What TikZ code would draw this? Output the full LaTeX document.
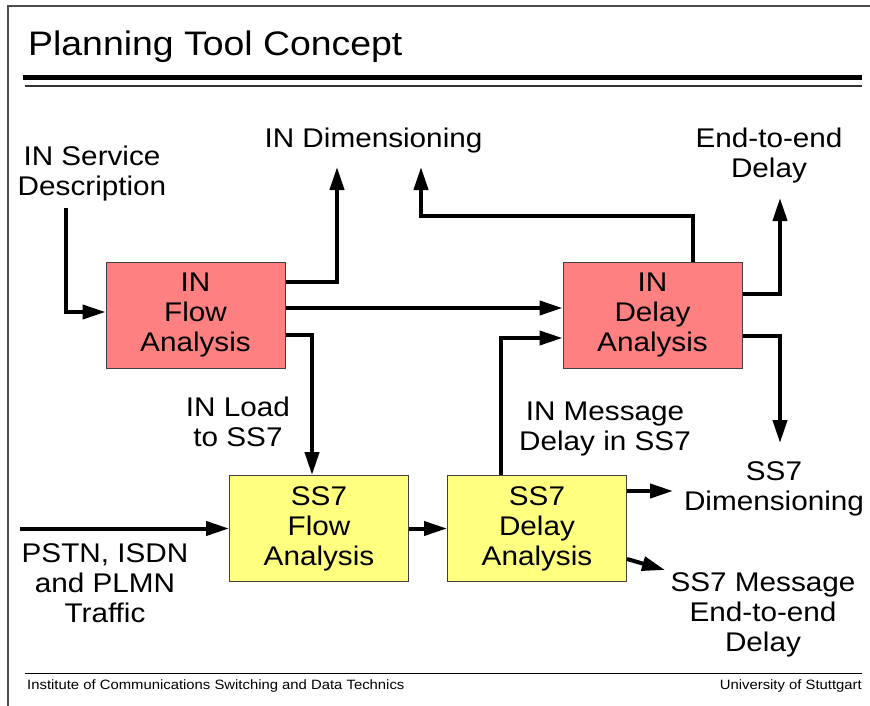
\documentclass[tikz,border=0pt]{standalone}
\usepackage{fontspec}
\setmainfont{Liberation Sans}[FakeStretch=1.1]
\usetikzlibrary{arrows.meta}
\definecolor{inred}{HTML}{FF8080}
\definecolor{ssyellow}{HTML}{FFFF80}
\definecolor{boxedge}{HTML}{404040}
\tikzset{
  lbl/.style={inner sep=0pt, anchor=base, align=center, font=\fontsize{27}{30}\selectfont},
  blockbox/.style={draw=boxedge, line width=1pt, minimum width=179pt, minimum height=106pt, inner sep=0pt, align=center, font=\fontsize{27}{30}\selectfont},
  inbox/.style={blockbox, fill=inred},
  ssbox/.style={blockbox, fill=ssyellow},
  arr/.style={line width=4pt, -{Triangle[length=23pt,width=14pt]}},
}
\begin{document}
\begin{tikzpicture}[x=1pt,y=-1pt]
\useasboundingbox (0,0) rectangle (870,706);
% frame
\draw[line width=1.5pt, black!70] (8,706) -- (8,6) -- (870,6);
% title and rules
\node[inner sep=0pt, anchor=base west, font=\fontsize{34}{38}\selectfont] (title) at (28,56) {Planning Tool Concept};
\draw[line width=5pt] (23,77.5) -- (862,77.5);
\draw[line width=1.5pt, black!80] (25,86) -- (862,86);
\draw[line width=1pt] (25,673) -- (862,673);
\node[inner sep=0pt, anchor=base west, font=\fontsize{13.5}{16}\selectfont] (footl) at (27,689) {Institute of Communications Switching and Data Technics};
\node[inner sep=0pt, anchor=base east, font=\fontsize{13.5}{16}\selectfont] (footr) at (862,689) {University of Stuttgart};
% boxes
\node[inbox] (inflow) at (195.5,315) {IN\\Flow\\Analysis};
\node[inbox] (indelay) at (652.5,315) {IN\\Delay\\Analysis};
\node[ssbox] (ssflow) at (319,528.5) {SS7\\Flow\\Analysis};
\node[ssbox] (ssdelay) at (537,528.5) {SS7\\Delay\\Analysis};
% labels (anchor = baseline of last line)
\node[lbl] (svc) at (92,195) {IN Service\\Description};
\node[lbl] (indim) at (373.5,147) {IN Dimensioning};
\node[lbl] (e2e) at (769,177) {End-to-end\\Delay};
\node[lbl] (inload) at (238,446) {IN Load\\to SS7};
\node[lbl] (inmsg) at (605,450) {IN Message\\Delay in SS7};
\node[lbl] (ssdim) at (774,510) {SS7\\Dimensioning};
\node[lbl] (ssmsg) at (763,651) {SS7 Message\\End-to-end\\Delay};
\node[lbl] (pstn) at (105,622) {PSTN, ISDN\\and PLMN\\Traffic};
% connector end points
\coordinate (svcstart) at (66,208);
\coordinate (dimtipA) at (337,167);
\coordinate (dimtipB) at (421,167);
\coordinate (dimcorner) at (421,216);
\coordinate (e2etip) at (780,198);
\coordinate (ssdimtip) at (780,443);
\coordinate (pstnstart) at (20,528.5);
\coordinate (ssdimtipB) at (673,491);
\coordinate (ssmsgtip) at (665,570);
% connectors
\draw[arr] (svcstart) |- (inflow.west |- 0,312);
\draw[arr] (inflow.east |- 0,282) -| (dimtipA);
\draw[arr] (inflow.east |- 0,308) -- (indelay.west |- 0,308);
\draw[arr] (inflow.east |- 0,335) -| (ssflow.north -| 312,0);
\draw[arr] (indelay.north -| 693,0) |- (dimcorner) -- (dimtipB);
\draw[arr] (indelay.east |- 0,294) -| (e2etip);
\draw[arr] (indelay.east |- 0,336) -| (ssdimtip);
\draw[arr] (ssdelay.north -| 501,0) |- (indelay.west |- 0,338);
\draw[arr] (ssflow.east) -- (ssdelay.west);
\draw[arr] (pstnstart) -- (ssflow.west);
\draw[arr] (ssdelay.east |- 0,491) -- (ssdimtipB);
\draw[arr] (ssdelay.east |- 0,559) -- (ssmsgtip);
\end{tikzpicture}
\end{document}
